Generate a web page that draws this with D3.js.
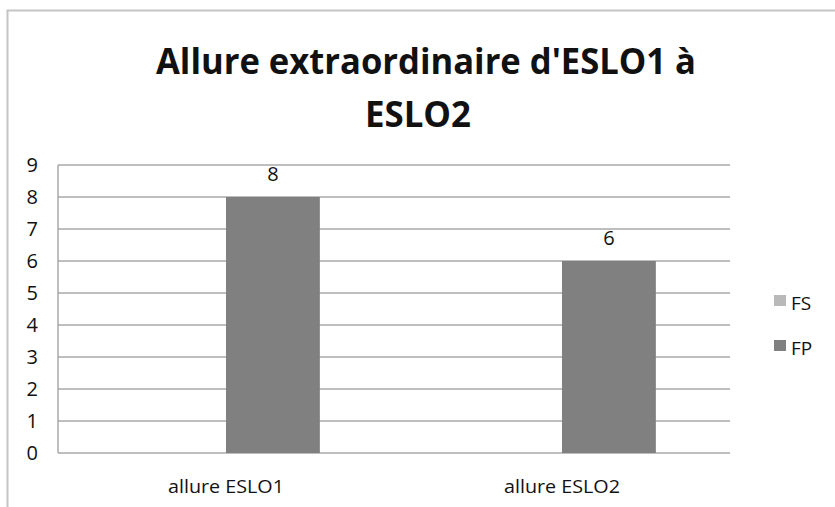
<!DOCTYPE html>
<html>
<head>
<meta charset="utf-8">
<script src="https://cdn.jsdelivr.net/npm/d3@7"></script>
<style>
  body { margin: 0; background: #fff; }
  text { font-family: "Open Sans", sans-serif; fill: #111; }
</style>
</head>
<body>
<svg id="chart" width="835" height="507"></svg>
<script>
const svg = d3.select("#chart");
const width = 835, height = 507;

// data
const categories = ["allure ESLO1", "allure ESLO2"];
const seriesNames = ["FS", "FP"];
const fsValues = [0, 0];
const fpValues = [8, 6];
const yTicks = [0, 1, 2, 3, 4, 5, 6, 7, 8, 9];
const titleLines = ["Allure extraordinaire d'ESLO1 à", "ESLO2"];

const colors = { FS: "#b9b9b9", FP: "#808080" };
const plot = { left: 58, right: 730, top: 165, bottom: 453 };

// frame
svg.append("path")
  .attr("d", `M7.5,${height} V10.5 H${width}`)
  .attr("fill", "none")
  .attr("stroke", "#c4c4c4")
  .attr("stroke-width", 2);

// title
svg.append("text")
  .attr("x", 426).attr("y", 74)
  .attr("text-anchor", "middle")
  .attr("font-weight", "bold")
  .attr("font-size", 35)
  .attr("textLength", 540)
  .attr("lengthAdjust", "spacingAndGlyphs")
  .text(titleLines[0]);
svg.append("text")
  .attr("x", 418).attr("y", 127)
  .attr("text-anchor", "middle")
  .attr("font-weight", "bold")
  .attr("font-size", 35)
  .attr("textLength", 106)
  .attr("lengthAdjust", "spacingAndGlyphs")
  .text(titleLines[1]);

const y = d3.scaleLinear().domain([0, 9]).range([plot.bottom, plot.top]);
const x0 = d3.scaleBand().domain(categories).range([plot.left, plot.right]);
const x1 = d3.scaleBand().domain(seriesNames)
  .range([0, x0.bandwidth()]).paddingOuter(0.79);

// gridlines
svg.append("g")
  .selectAll("line")
  .data(yTicks)
  .join("line")
  .attr("x1", plot.left).attr("x2", plot.right)
  .attr("y1", d => y(d)).attr("y2", d => y(d))
  .attr("stroke", "#a8a8a8")
  .attr("stroke-width", 1.5);

svg.append("line")
  .attr("x1", plot.left).attr("x2", plot.left)
  .attr("y1", plot.top).attr("y2", plot.bottom)
  .attr("stroke", "#a8a8a8")
  .attr("stroke-width", 1.5);

// y labels
svg.append("g")
  .selectAll("text")
  .data(yTicks)
  .join("text")
  .attr("x", 38)
  .attr("y", d => y(d) + 7)
  .attr("text-anchor", "end")
  .attr("font-size", 20)
  .text(d => d);

// bars
const rows = categories.map((c, i) => ({ cat: c, FS: fsValues[i], FP: fpValues[i] }));
const groups = svg.append("g")
  .selectAll("g")
  .data(rows)
  .join("g")
  .attr("transform", d => `translate(${x0(d.cat)},0)`);

groups.selectAll("rect")
  .data(d => seriesNames.map(s => ({ s, v: d[s] })).filter(e => e.v > 0))
  .join("rect")
  .attr("x", d => x1(d.s))
  .attr("width", x1.bandwidth())
  .attr("y", d => y(d.v))
  .attr("height", d => y(0) - y(d.v))
  .attr("fill", d => colors[d.s]);

groups.selectAll("text.val")
  .data(d => seriesNames.map(s => ({ s, v: d[s] })).filter(e => e.v > 0))
  .join("text")
  .attr("class", "val")
  .attr("x", d => x1(d.s) + x1.bandwidth() / 2)
  .attr("y", d => y(d.v) - 16)
  .attr("text-anchor", "middle")
  .attr("font-size", 20)
  .text(d => d.v);

// category labels
svg.append("g")
  .selectAll("text")
  .data(categories)
  .join("text")
  .attr("x", d => x0(d) + x0.bandwidth() / 2)
  .attr("y", 493)
  .attr("text-anchor", "middle")
  .attr("font-size", 18)
  .attr("textLength", 116)
  .attr("lengthAdjust", "spacingAndGlyphs")
  .text(d => d);

// legend
const legend = svg.append("g")
  .selectAll("g")
  .data(seriesNames)
  .join("g")
  .attr("transform", (d, i) => `translate(774,${295 + i * 45})`);
legend.append("rect")
  .attr("width", 12).attr("height", 11)
  .attr("fill", d => colors[d]);
legend.append("text")
  .attr("x", 17).attr("y", 15)
  .attr("font-size", 19)
  .text(d => d);
</script>
</body>
</html>
